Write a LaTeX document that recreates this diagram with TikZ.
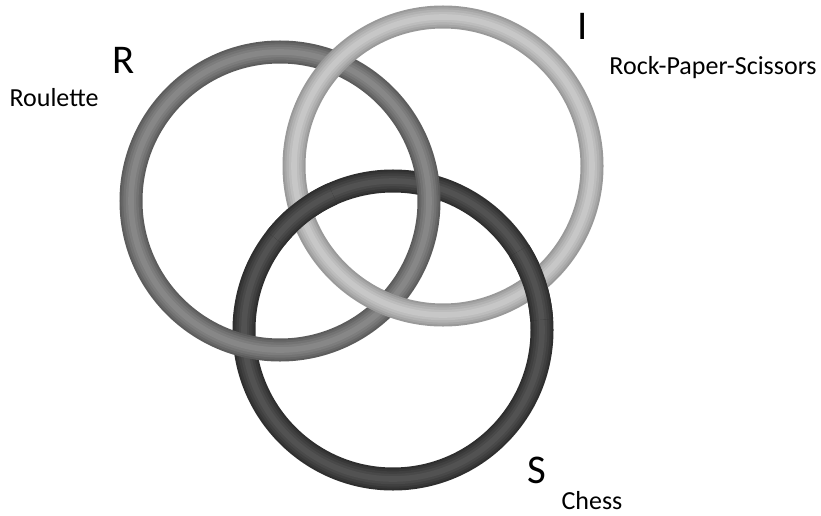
\documentclass[tikz,border=0pt]{standalone}
\usepackage{fontspec}
\setmainfont{Carlito}
\usepackage{tikz}
\usetikzlibrary{positioning}
\usepackage{xcolor}
% ring shades: edge, middle, highlight
\definecolor{Redge}{gray}{0.36}
\definecolor{Rmid}{gray}{0.45}
\definecolor{Rhi}{gray}{0.53}
\definecolor{Iedge}{gray}{0.60}
\definecolor{Imid}{gray}{0.70}
\definecolor{Ihi}{gray}{0.78}
\definecolor{Sedge}{gray}{0.18}
\definecolor{Smid}{gray}{0.25}
\definecolor{Shi}{gray}{0.32}
\tikzstyle{bigletter} = [
inner sep=0pt,
anchor=base,
font=\fontsize{29}{34}\selectfont
]
\tikzstyle{gamename} = [
inner sep=0pt,
anchor=base,
font=\fontsize{18.5}{22}\selectfont
]
% a tube: #1 path, #2 colour prefix
\newcommand{\tube}[2]{%
\draw[line width=0.575cm, color=#2edge] #1;
\draw[line width=0.48cm, color=#2mid!50!#2edge] #1;
\draw[line width=0.38cm, color=#2mid] #1;
\draw[line width=0.26cm, color=#2hi!50!#2mid] #1;
\draw[line width=0.14cm, color=#2hi] #1;
}

\begin{document}
\begin{tikzpicture}[x=0.025cm, y=0.025cm]
        
        \fill[white] (0,0) rectangle (821,515);
        \useasboundingbox (0,0) rectangle (821,515);
        
        \coordinate (R) at (280,314);
        \coordinate (I) at (443,349);
        \coordinate (S) at (393,185);
        
        % S under R, R under I
        \tube{(S) circle[radius=149]}{S}
        \tube{(R) circle[radius=149]}{R}
        \tube{(I) circle[radius=149]}{I}
        
        % S over I at both crossings
        \tube{(S) ++(4:149) arc[start angle=4, end angle=32, radius=149]}{S}
        \tube{(S) ++(114:149) arc[start angle=114, end angle=142, radius=149]}{S}
        
        \node (rlet) [bigletter] at (124,441) {R};
        \node (roul) [gamename] at (54,408) {Roulette};
        
        \node (ilet) [bigletter] at (583,475) {I};
        \node (rps) [gamename] at (713,440) {Rock-Paper-Scissors};
        
        \node (slet) [bigletter] at (537,32) {S};
        \node (chess) [gamename] at (592,6) {Chess};
        
        \end{tikzpicture}
\end{document}
